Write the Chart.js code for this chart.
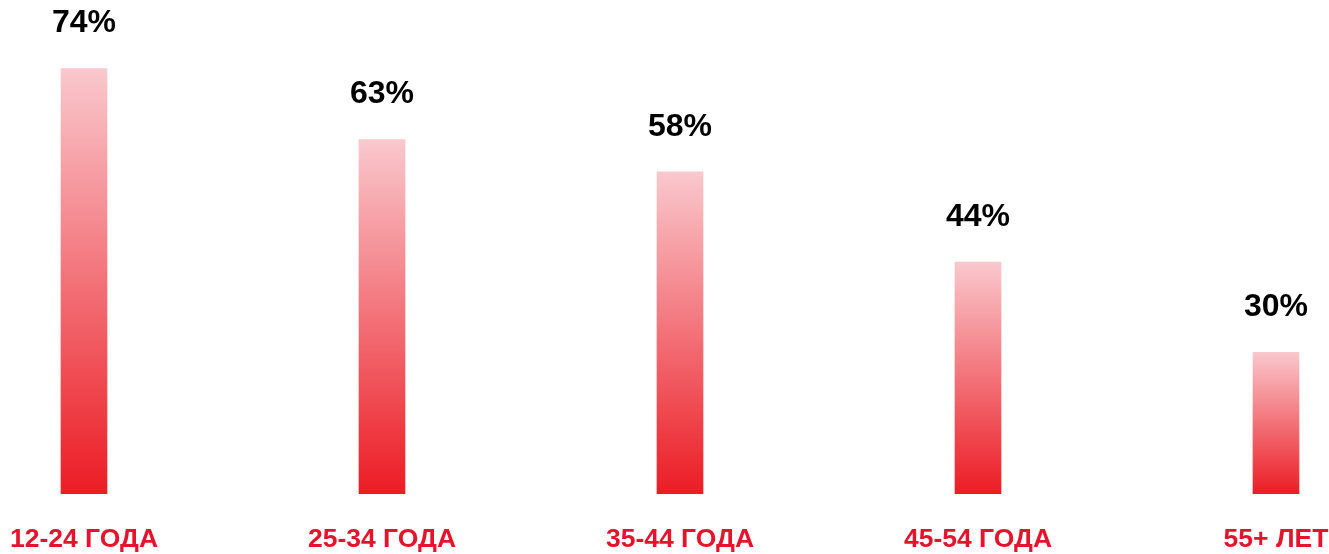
<!DOCTYPE html>
<html>
<head>
<meta charset="utf-8">
<script src="https://cdn.jsdelivr.net/npm/chart.js@4/dist/chart.umd.min.js"></script>
<style>
  html, body { margin: 0; padding: 0; background: #ffffff; overflow: hidden; }
  #wrap { position: absolute; left: -65px; top: 0; width: 1490px; height: 554px; }
</style>
</head>
<body>
<div id="wrap"><canvas id="c"></canvas></div>
<script>
const categories = ["12-24 ГОДА", "25-34 ГОДА", "35-44 ГОДА", "45-54 ГОДА", "55+ ЛЕТ"];
const shares = [74, 63, 58, 44, 30];
const valueLabels = ["74%", "63%", "58%", "44%", "30%"];

const FONT = "'Liberation Sans', Arial, sans-serif";

const topLabels = {
  id: 'topLabels',
  afterDatasetsDraw(chart) {
    const ctx = chart.ctx;
    const meta = chart.getDatasetMeta(0);
    ctx.save();
    ctx.font = "bold 32px " + FONT;
    ctx.fillStyle = "#000000";
    ctx.textAlign = "center";
    ctx.textBaseline = "middle";
    meta.data.forEach((bar, i) => {
      ctx.fillText(valueLabels[i], bar.x, bar.y - 45);
    });
    ctx.restore();
  }
};

new Chart(document.getElementById('c'), {
  type: 'bar',
  data: {
    labels: categories,
    datasets: [{
      data: shares,
      barThickness: 46,
      borderWidth: 0,
      backgroundColor(context) {
        const chart = context.chart;
        const area = chart.chartArea;
        if (!area || context.type !== 'data') return '#ec1c24';
        const y = chart.scales.y;
        const top = y.getPixelForValue(shares[context.dataIndex]);
        const bottom = y.getPixelForValue(y.min);
        const g = chart.ctx.createLinearGradient(0, top, 0, bottom);
        g.addColorStop(0, '#f9c8cd');
        g.addColorStop(1, '#ec1c24');
        return g;
      }
    }]
  },
  options: {
    responsive: true,
    maintainAspectRatio: false,
    animation: false,
    layout: { padding: { top: 30, bottom: 0, left: 0, right: 0 } },
    plugins: { legend: { display: false }, tooltip: { enabled: false } },
    scales: {
      x: {
        grid: { display: false, drawTicks: false },
        border: { display: false },
        afterFit(scale) { scale.height = 60; },
        ticks: {
          color: '#e3142b',
          font: { family: FONT, size: 26.5, weight: 'bold' },
          padding: 30,
          maxRotation: 0,
          autoSkip: false
        }
      },
      y: {
        display: false,
        min: 8,
        max: 80
      }
    }
  },
  plugins: [topLabels]
});
</script>
</body>
</html>
